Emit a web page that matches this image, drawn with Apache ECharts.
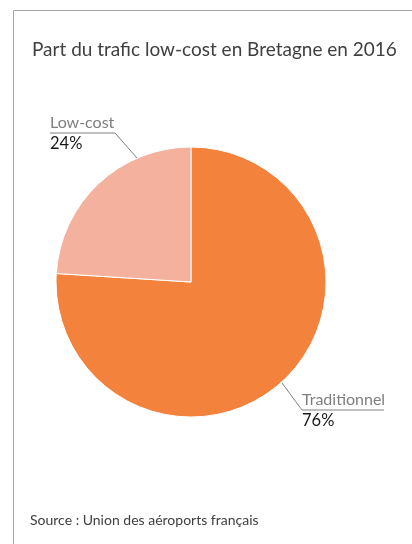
<!DOCTYPE html>
<html><head><meta charset="utf-8">
<script src="https://cdn.jsdelivr.net/npm/echarts@6/dist/echarts.min.js"></script>
<style>html,body{margin:0;padding:0;background:#fff}#c{width:412px;height:544px}</style>
</head><body><div id="c"></div>
<script>
var titleText = 'Part du trafic low-cost en Bretagne en 2016';
var sourceText = 'Source : Union des aéroports français';
var categories = ['Traditionnel', 'Low-cost'];
var values = [76, 24];
var colors = ['#F3823D', '#F4B19E'];

var chart = echarts.init(document.getElementById('c'), null, {renderer: 'canvas'});
var FONT = 'Lato, "Open Sans", sans-serif';
var cx = 191, cy = 282, R = 135;

chart.setOption({
  animation: false,
  graphic: [
    {type: 'rect', shape: {x: 13.5, y: 10.5, width: 420, height: 560}, style: {fill: 'none', stroke: '#a6a6a6', lineWidth: 1}},
    {type: 'text', left: 32, top: 40, style: {text: titleText, font: '19px ' + FONT, fill: '#404040'}},
    {type: 'text', left: 30, top: 513, style: {text: sourceText, font: '14px ' + FONT, fill: '#404040'}}
  ],
  series: [{
    type: 'pie',
    center: [cx, cy],
    radius: R,
    startAngle: 90,
    clockwise: true,
    data: categories.map(function (c, i) { return {name: c, value: values[i], itemStyle: {color: colors[i]}}; }),
    itemStyle: {borderColor: '#fff', borderWidth: 1},
    label: {
      show: true,
      position: 'outside',
      formatter: function (p) { return '{n|' + p.name + '}\n{p|' + p.value + '%}'; },
      rich: {
        n: {fontFamily: FONT, fontSize: 16, color: '#7f7f7f', lineHeight: 21},
        p: {fontFamily: FONT, fontSize: 16.5, color: '#1a1a1a', lineHeight: 21}
      }
    },
    labelLine: {show: true, length: 10, length2: 10, lineStyle: {color: '#7f7f7f', width: 1}},
    labelLayout: function (p) {
      if (p.dataIndex === 1) {
        return {x: 50, y: 133, align: 'left', verticalAlign: 'middle',
          labelLinePoints: [[137, 158], [115, 133], [50, 133]]};
      }
      return {x: 302, y: 410, align: 'left', verticalAlign: 'middle',
        labelLinePoints: [[282, 383], [302, 410], [384, 410]]};
    },
    emphasis: {disabled: true}
  }]
});
</script></body></html>
